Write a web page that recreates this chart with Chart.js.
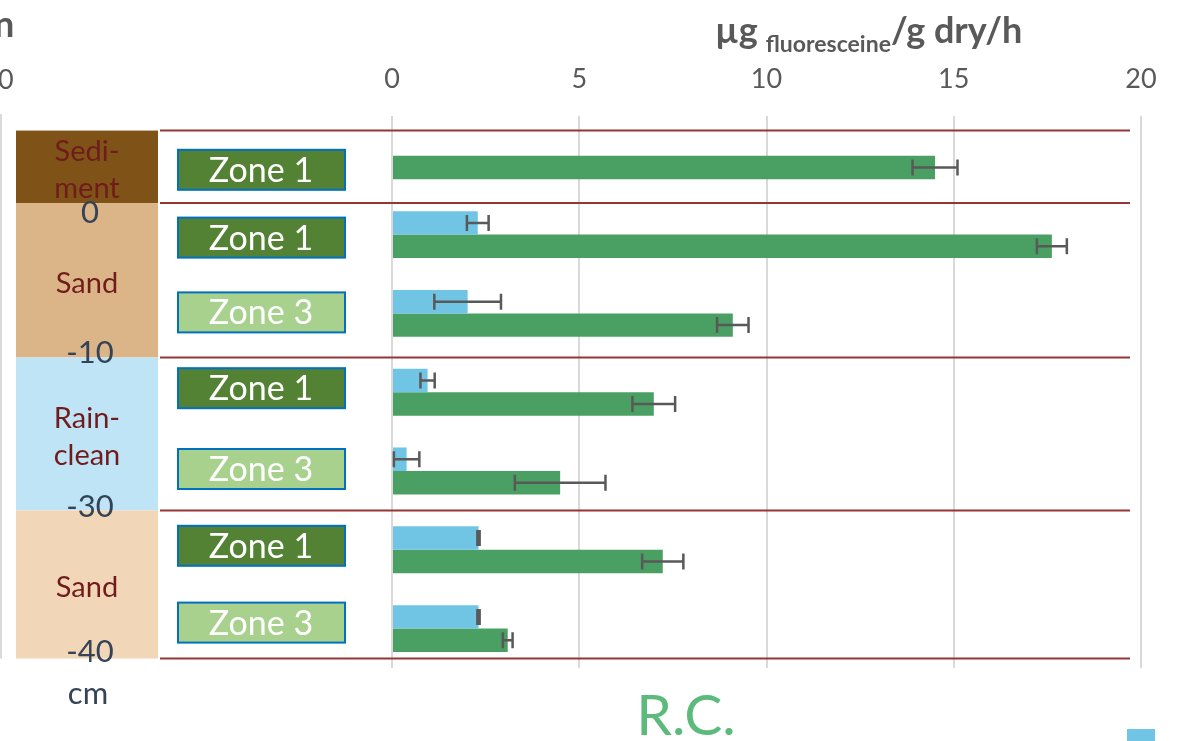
<!DOCTYPE html>
<html>
<head>
<meta charset="utf-8">
<script src="https://cdn.jsdelivr.net/npm/chart.js@4/dist/chart.umd.min.js"></script>
<style>
  html, body { margin: 0; padding: 0; background: #fff; overflow: hidden; }
</style>
</head>
<body>
<canvas id="rcChart" width="1179" height="741"></canvas>
<script>
// rows, top to bottom
const categories = ['Sediment Zone 1', 'Sand Zone 1', 'Sand Zone 3', 'Rain-clean Zone 1', 'Rain-clean Zone 3', 'Sand Zone 1', 'Sand Zone 3'];
const zoneLabels = ['Zone 1', 'Zone 1', 'Zone 3', 'Zone 1', 'Zone 3', 'Zone 1', 'Zone 3'];
const blueValues = [null, 2.29, 2.02, 0.95, 0.39, 2.31, 2.31];
const blueErrors = [0, 0.29, 0.89, 0.19, 0.34, 0.03, 0.03];
const greenValues = [14.5, 17.62, 9.1, 6.99, 4.49, 7.23, 3.09];
const greenErrors = [0.6, 0.4, 0.42, 0.57, 1.21, 0.55, 0.13];
const xTicks = [0, 5, 10, 15, 20];

const layerNames = [['Sedi-', 'ment'], ['Sand'], ['Rain-', 'clean'], ['Sand']];
const depthLabels = ['0', '-10', '-30', '-40'];

const BLUE = '#70C4E4';
const GREEN = '#4A9F63';
const FONT = 'Lato, "Open Sans", sans-serif';

// layer edges in category units (top of sediment ... bottom of lower sand)
const layerEdges = [-0.32, 0.60, 2.56, 4.50, 6.38];
const layerColors = ['#7F5218', '#DBB587', '#BFE4F6', '#F2D6B8'];

const decor = {
  id: 'decor',
  beforeDatasetsDraw(chart) {
    const ctx = chart.ctx;
    const y = chart.scales.y;
    const ys = layerEdges.map(v => y.getPixelForValue(v));
    ctx.save();

    // faint gridline of neighbouring chart at left edge
    ctx.fillStyle = '#D9D9D9';
    ctx.fillRect(0, 114, 2, ys[4] - 114);

    // soil layers
    for (let i = 0; i < 4; i++) {
      ctx.fillStyle = layerColors[i];
      ctx.fillRect(16, ys[i], 142, ys[i + 1] - ys[i]);
    }

    // separators
    ctx.strokeStyle = '#943634';
    ctx.lineWidth = 2;
    ys.forEach(py => {
      ctx.beginPath();
      ctx.moveTo(160, py);
      ctx.lineTo(1130, py);
      ctx.stroke();
    });

    // zone boxes
    const nudge = [14, 3, -1, -4, -2, -4, -6];
    zoneLabels.forEach((z, i) => {
      const cy = y.getPixelForValue(i) + nudge[i];
      ctx.fillStyle = z === 'Zone 1' ? '#548235' : '#A9D18E';
      ctx.fillRect(178, cy - 20, 167, 40);
      ctx.strokeStyle = '#0070C0';
      ctx.lineWidth = 2;
      ctx.strokeRect(178, cy - 20, 167, 40);
      ctx.fillStyle = '#FFFFFF';
      ctx.font = '34px ' + FONT;
      ctx.textAlign = 'center';
      ctx.textBaseline = 'middle';
      ctx.fillText(z, 261, cy + 1);
    });

    // layer names
    ctx.fillStyle = '#701C1C';
    ctx.font = '29px ' + FONT;
    layerNames.forEach((lines, i) => {
      const mid = (ys[i] + ys[i + 1]) / 2 + 3;
      const lh = 37;
      lines.forEach((t, k) => {
        ctx.fillText(t, 87, mid + (k - (lines.length - 1) / 2) * lh);
      });
    });

    // depth labels
    ctx.fillStyle = '#344356';
    ctx.font = '31px ' + FONT;
    const dOff = [10, -5, -3, -7];
    depthLabels.forEach((t, i) => {
      ctx.fillText(t, 90, ys[i + 1] + dOff[i]);
    });
    ctx.fillText('cm', 88, ys[4] + 35);

    ctx.restore();
  },
  afterDatasetsDraw(chart) {
    const ctx = chart.ctx;
    const x = chart.scales.x;
    ctx.save();
    ctx.strokeStyle = '#595959';
    ctx.lineWidth = 2.5;
    [[0, blueErrors], [1, greenErrors]].forEach(([di, errs]) => {
      const meta = chart.getDatasetMeta(di);
      const vals = chart.data.datasets[di].data;
      meta.data.forEach((bar, i) => {
        if (vals[i] == null) return;
        const by = bar.y;
        const x0 = x.getPixelForValue(vals[i] - errs[i]);
        const x1 = x.getPixelForValue(vals[i] + errs[i]);
        ctx.beginPath();
        ctx.moveTo(x0, by);
        ctx.lineTo(x1, by);
        ctx.moveTo(x0, by - 8);
        ctx.lineTo(x0, by + 8);
        ctx.moveTo(x1, by - 8);
        ctx.lineTo(x1, by + 8);
        ctx.stroke();
      });
    });
    ctx.restore();
  },
  afterDraw(chart) {
    const ctx = chart.ctx;
    ctx.save();
    ctx.fillStyle = '#595959';
    ctx.textBaseline = 'alphabetic';
    ctx.textAlign = 'left';

    // axis title with subscript
    let px = 715;
    ctx.font = 'bold 36px ' + FONT;
    ctx.fillText('µg', px, 43);
    px += ctx.measureText('µg').width + 8;
    ctx.font = 'bold 23px ' + FONT;
    ctx.fillText('fluoresceine', px, 52);
    px += ctx.measureText('fluoresceine').width;
    ctx.font = 'bold 36px ' + FONT;
    ctx.fillText('/g dry/h', px, 43);

    // cropped bits of neighbouring chart
    ctx.fillText('n', -6, 37);
    ctx.font = '27px ' + FONT;
    ctx.fillText('0', -2, 89);

    // R.C.
    ctx.fillStyle = '#5BBA7C';
    ctx.font = '57px ' + FONT;
    ctx.textAlign = 'center';
    ctx.fillText('R.C.', 686, 735);

    // legend swatch (cropped)
    ctx.fillStyle = BLUE;
    ctx.fillRect(1127, 729, 28, 14);
    ctx.restore();
  }
};

new Chart(document.getElementById('rcChart'), {
  type: 'bar',
  data: {
    labels: categories,
    datasets: [
      { label: 'blue', data: blueValues, backgroundColor: BLUE, categoryPercentage: 0.595, barPercentage: 1 },
      { label: 'green', data: greenValues, backgroundColor: GREEN, categoryPercentage: 0.595, barPercentage: 1 },
    ],
  },
  options: {
    indexAxis: 'y',
    responsive: false,
    animation: false,
    layout: { padding: { left: 392, right: 38, top: 42, bottom: 73 } },
    plugins: { legend: { display: false }, tooltip: { enabled: false } },
    scales: {
      x: {
        position: 'top',
        min: 0,
        max: 20,
        afterBuildTicks: (s) => { s.ticks = xTicks.map(v => ({ value: v })); },
        ticks: { color: '#595959', font: { family: FONT, size: 27 }, padding: 21 },
        grid: { color: '#D9D9D9', lineWidth: 2, drawTicks: false },
        border: { display: false },
      },
      y: { display: false },
    },
  },
  plugins: [decor],
});
</script>
</body>
</html>
